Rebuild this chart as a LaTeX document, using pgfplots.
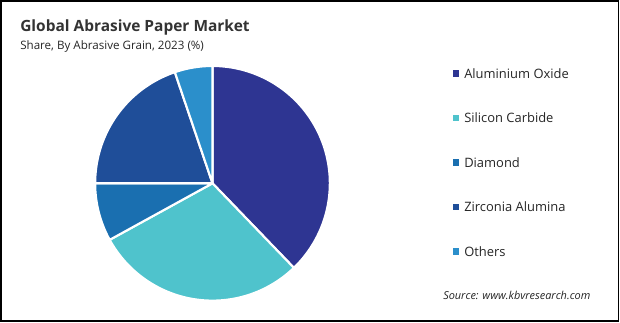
\documentclass[border=0pt]{standalone}
\usepackage{pgfplots}
\pgfplotsset{compat=1.18}
\usepackage{fontspec}
\setmainfont{Open Sans}
\definecolor{cAO}{HTML}{2E3592}
\definecolor{cSC}{HTML}{4FC3CC}
\definecolor{cDI}{HTML}{1A6FB0}
\definecolor{cZA}{HTML}{1F4E99}
\definecolor{cOT}{HTML}{2B8FCB}
% shares (%), clockwise from 12 o'clock
\def\vAO{37.8}
\def\vSC{29.2}
\def\vDI{8.0}
\def\vZA{19.8}
\def\vOT{5.2}
\pgfmathsetmacro\aA{90}
\pgfmathsetmacro\aB{\aA-3.6*\vAO}
\pgfmathsetmacro\aC{\aB-3.6*\vSC}
\pgfmathsetmacro\aD{\aC-3.6*\vDI}
\pgfmathsetmacro\aE{\aD-3.6*\vZA}
\pgfmathsetmacro\aF{\aE-3.6*\vOT}
\begin{document}
\begin{tikzpicture}[x=0.75pt,y=-0.75pt]
\fill[white] (0,0) rectangle (620,322);
\draw[line width=1.1pt] (1,1) rectangle (618.5,321);
\coordinate (pc) at (212.5,183.3);
\node[anchor=base west,font=\bfseries\fontsize{11.6}{13}\selectfont,text=black!80,inner sep=0] at (20,31.5) {Global Abrasive Paper Market};
\node[anchor=base west,font=\fontsize{8.7}{10}\selectfont,text=black!85,inner sep=0] at (20,49.3) {Share, By Abrasive Grain, 2023 (\%)};
\begin{axis}[
  at={(pc)}, anchor=center,
  scale only axis, width=176pt, height=176pt,
  xmin=-1, xmax=1, ymin=-1, ymax=1,
  hide axis, clip=false,
  every axis plot/.append style={draw=white, line width=1.6pt, line join=round},
]
\addplot[fill=cAO, domain=\aB:\aA, samples=80] ({cos(x)},{sin(x)}) -- (0,0) -- cycle;
\addplot[fill=cSC, domain=\aC:\aB, samples=80] ({cos(x)},{sin(x)}) -- (0,0) -- cycle;
\addplot[fill=cDI, domain=\aD:\aC, samples=40] ({cos(x)},{sin(x)}) -- (0,0) -- cycle;
\addplot[fill=cZA, domain=\aE:\aD, samples=60] ({cos(x)},{sin(x)}) -- (0,0) -- cycle;
\addplot[fill=cOT, domain=\aF:\aE, samples=30] ({cos(x)},{sin(x)}) -- (0,0) -- cycle;
\end{axis}
\foreach \c/\t/\yy in {cAO/Aluminium Oxide/73.3, cSC/Silicon Carbide/117.7, cDI/Diamond/162.3, cZA/Zirconia Alumina/206.7, cOT/Others/251.3}{
  \fill[\c] (452.5,\yy-3.2) rectangle (458.5,\yy+3.2);
  \node[anchor=west,font=\fontsize{9.7}{11}\selectfont,text=black!85,inner sep=0] at (464,\yy) {\t};
}
\node[anchor=base west,font=\itshape\fontsize{8.2}{9}\selectfont,text=black!85,inner sep=0] at (443,299.5) {Source: www.kbvresearch.com};
\end{tikzpicture}
\end{document}
